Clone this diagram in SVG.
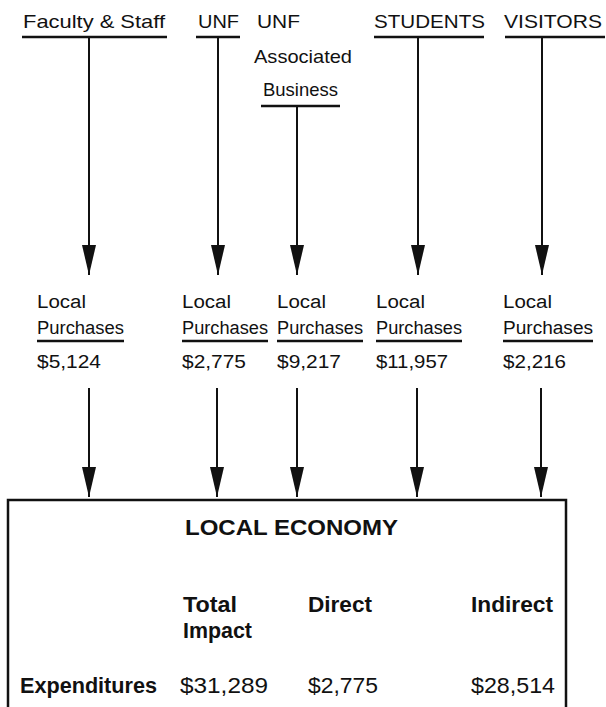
<svg xmlns="http://www.w3.org/2000/svg" width="606" height="707" viewBox="0 0 606 707">
<defs>
<style>
text{font-family:"Liberation Sans",Arial,sans-serif;fill:#111;}
.t{font-size:19px;}
.m{font-size:18px;}
.b{font-size:22px;font-weight:bold;}
.v{font-size:22px;}
.ul{stroke:#111;stroke-width:2.5;fill:none;}
.ln{stroke:#111;stroke-width:2;fill:none;}
</style>
<marker id="ah" markerWidth="30" markerHeight="14" refX="30" refY="7" orient="auto" markerUnits="userSpaceOnUse" viewBox="0 0 30 14">
<path d="M0,0 L30,7 L0,14 Z" fill="#111"/>
</marker>
</defs>
<rect width="606" height="707" fill="#fff"/>

<g id="src-faculty">
<text class="t" x="23" y="28" textLength="142" lengthAdjust="spacingAndGlyphs">Faculty &amp; Staff</text>
<line class="ul" x1="22" y1="37" x2="167" y2="37"/>
</g>
<g id="src-unf">
<text class="t" x="198" y="28" textLength="41" lengthAdjust="spacingAndGlyphs">UNF</text>
<line class="ul" x1="196" y1="37" x2="240" y2="37"/>
</g>
<g id="src-unf-assoc">
<text class="t" x="257" y="28" textLength="43" lengthAdjust="spacingAndGlyphs">UNF</text>
<text class="t" x="254" y="63" textLength="98" lengthAdjust="spacingAndGlyphs">Associated</text>
<text class="t" x="263" y="96" textLength="75" lengthAdjust="spacingAndGlyphs">Business</text>
<line class="ul" x1="261" y1="106" x2="340" y2="106"/>
</g>
<g id="src-students">
<text class="t" x="374" y="28" textLength="111" lengthAdjust="spacingAndGlyphs">STUDENTS</text>
<line class="ul" x1="374" y1="37" x2="484" y2="37"/>
</g>
<g id="src-visitors">
<text class="t" x="504" y="28" textLength="98" lengthAdjust="spacingAndGlyphs">VISITORS</text>
<line class="ul" x1="505" y1="37" x2="605" y2="37"/>
</g>

<g id="lp-faculty">
<text class="m" x="37" y="308" textLength="49" lengthAdjust="spacingAndGlyphs">Local</text>
<text class="m" x="37" y="334" textLength="87" lengthAdjust="spacingAndGlyphs">Purchases</text>
<line class="ul" x1="37" y1="341" x2="124" y2="341"/>
<text class="m" x="37" y="368" textLength="64" lengthAdjust="spacingAndGlyphs">$5,124</text>
</g>
<g id="lp-unf">
<text class="m" x="182" y="308" textLength="49" lengthAdjust="spacingAndGlyphs">Local</text>
<text class="m" x="182" y="334" textLength="86" lengthAdjust="spacingAndGlyphs">Purchases</text>
<line class="ul" x1="182" y1="341" x2="268" y2="341"/>
<text class="m" x="182" y="368" textLength="64" lengthAdjust="spacingAndGlyphs">$2,775</text>
</g>
<g id="lp-assoc">
<text class="m" x="277" y="308" textLength="49" lengthAdjust="spacingAndGlyphs">Local</text>
<text class="m" x="277" y="334" textLength="86" lengthAdjust="spacingAndGlyphs">Purchases</text>
<line class="ul" x1="277" y1="341" x2="363" y2="341"/>
<text class="m" x="277" y="368" textLength="64" lengthAdjust="spacingAndGlyphs">$9,217</text>
</g>
<g id="lp-students">
<text class="m" x="376" y="308" textLength="49" lengthAdjust="spacingAndGlyphs">Local</text>
<text class="m" x="376" y="334" textLength="86" lengthAdjust="spacingAndGlyphs">Purchases</text>
<line class="ul" x1="376" y1="341" x2="462" y2="341"/>
<text class="m" x="376" y="368" textLength="72" lengthAdjust="spacingAndGlyphs">$11,957</text>
</g>
<g id="lp-visitors">
<text class="m" x="503" y="308" textLength="49" lengthAdjust="spacingAndGlyphs">Local</text>
<text class="m" x="503" y="334" textLength="90" lengthAdjust="spacingAndGlyphs">Purchases</text>
<line class="ul" x1="503" y1="341" x2="593" y2="341"/>
<text class="m" x="503" y="368" textLength="63" lengthAdjust="spacingAndGlyphs">$2,216</text>
</g>

<g id="local-economy">
<path class="ul" d="M8,720 L8,500 L566,500 L566,720"/>
<text class="b" x="185" y="535" textLength="213" lengthAdjust="spacingAndGlyphs">LOCAL ECONOMY</text>
<text class="b" x="183" y="612" textLength="54" lengthAdjust="spacingAndGlyphs">Total</text>
<text class="b" x="183" y="638" textLength="69" lengthAdjust="spacingAndGlyphs">Impact</text>
<text class="b" x="308" y="612" textLength="64" lengthAdjust="spacingAndGlyphs">Direct</text>
<text class="b" x="471" y="612" textLength="82" lengthAdjust="spacingAndGlyphs">Indirect</text>
<text class="b" x="20" y="693" textLength="137" lengthAdjust="spacingAndGlyphs">Expenditures</text>
<text class="v" x="180" y="693" textLength="88" lengthAdjust="spacingAndGlyphs">$31,289</text>
<text class="v" x="308" y="693" textLength="70" lengthAdjust="spacingAndGlyphs">$2,775</text>
<text class="v" x="471" y="693" textLength="84" lengthAdjust="spacingAndGlyphs">$28,514</text>
</g>

<g id="connectors">
<line class="ln" x1="89" y1="37" x2="89" y2="275" marker-end="url(#ah)"/>
<line class="ln" x1="218" y1="37" x2="218" y2="275" marker-end="url(#ah)"/>
<line class="ln" x1="297" y1="106" x2="297" y2="275" marker-end="url(#ah)"/>
<line class="ln" x1="418" y1="37" x2="418" y2="275" marker-end="url(#ah)"/>
<line class="ln" x1="542" y1="37" x2="542" y2="275" marker-end="url(#ah)"/>
<line class="ln" x1="89" y1="388" x2="89" y2="497" marker-end="url(#ah)"/>
<line class="ln" x1="217" y1="388" x2="217" y2="497" marker-end="url(#ah)"/>
<line class="ln" x1="297" y1="388" x2="297" y2="497" marker-end="url(#ah)"/>
<line class="ln" x1="417" y1="388" x2="417" y2="497" marker-end="url(#ah)"/>
<line class="ln" x1="541" y1="388" x2="541" y2="497" marker-end="url(#ah)"/>
</g>
</svg>
